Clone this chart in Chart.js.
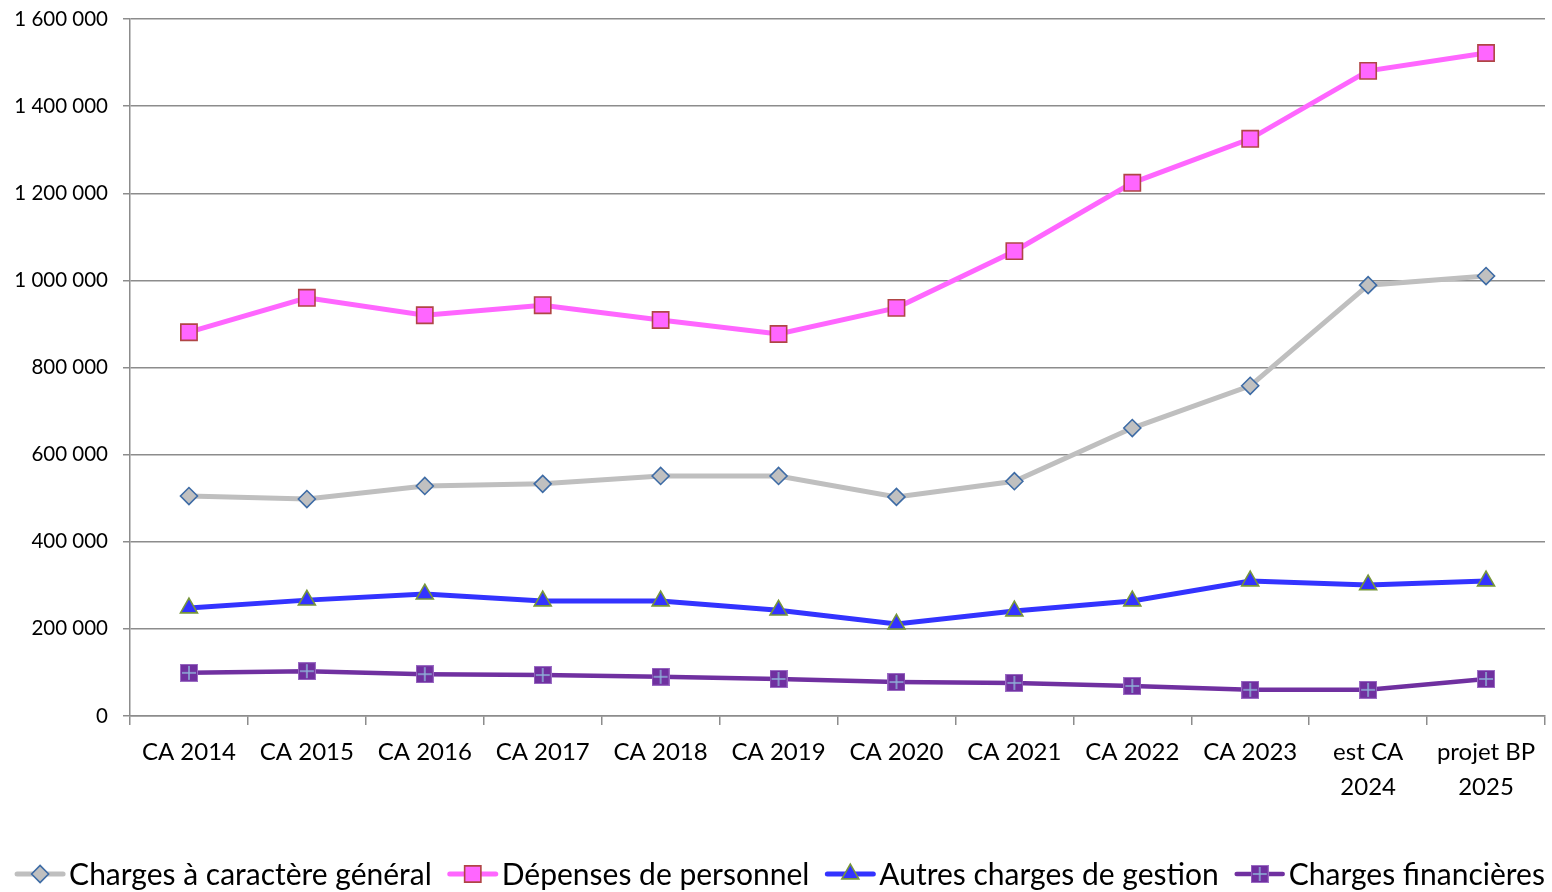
<!DOCTYPE html>
<html><head><meta charset="utf-8">
<script src="https://cdn.jsdelivr.net/npm/chart.js@4"></script>
<style>html,body{margin:0;padding:0;background:#fff;overflow:hidden;}#wrap{width:1552px;height:892px;}</style>
</head><body><div id="wrap"><canvas id="c" width="1552" height="892"></canvas></div>
<script>
const categories = ["CA 2014","CA 2015","CA 2016","CA 2017","CA 2018","CA 2019","CA 2020","CA 2021","CA 2022","CA 2023",["est CA","2024"],["projet BP","2025"]];
const chargesGenerales = [505000,498000,528000,533000,551000,551000,503000,539000,661000,758000,989000,1010000];
const depensesPersonnel = [881000,960000,920000,943000,909000,877000,937000,1067000,1224000,1325000,1481000,1522000];
const autresCharges = [248000,266000,280000,264000,264000,243000,211000,241000,264000,310000,301000,310000];
const chargesFinancieres = [99000,103000,96000,94000,90000,85000,78000,76000,69000,60000,60000,85000];
const seriesNames = ["Charges à caractère général","Dépenses de personnel","Autres charges de gestion","Charges financières"];
const yTicks = [0,200000,400000,600000,800000,1000000,1200000,1400000,1600000];

const FONT = "Lato, 'Liberation Sans', sans-serif";

function squarePlus(){
  const s = 18, cv = document.createElement('canvas');
  cv.width = s; cv.height = s;
  const g = cv.getContext('2d');
  g.fillStyle = '#7030a0'; g.fillRect(0,0,s,s);
  g.strokeStyle = '#9b6cc4'; g.lineWidth = 1; g.strokeRect(0.5,0.5,s-1,s-1);
  g.strokeStyle = '#8fb0d8'; g.lineWidth = 1.5;
  g.beginPath(); g.moveTo(s/2,2); g.lineTo(s/2,s-2); g.moveTo(2,s/2); g.lineTo(s-2,s/2); g.stroke();
  return cv;
}
const plusImg = squarePlus();

const styles = [
  {line:'#bfbfbf', width:5, point:'rectRot', radius:8.5, fill:'#c0c0c0', border:'#3d6ba5', bw:1.6},
  {line:'#ff66ff', width:5, point:'rect', radius:11.5, fill:'#ff66ff', border:'#b04545', bw:1.6},
  {line:'#3333ff', width:5, point:'triangle', radius:9.8, fill:'#3333ff', border:'#77963b', bw:1.6},
  {line:'#7030a0', width:4.5, point:plusImg, radius:9, fill:'#7030a0', border:'#7030a0', bw:0}
];
const dataArr = [chargesGenerales, depensesPersonnel, autresCharges, chargesFinancieres];

const datasets = dataArr.map((d,i)=>({
  label: seriesNames[i], data: d,
  borderColor: styles[i].line, borderWidth: styles[i].width,
  pointStyle: styles[i].point, pointRadius: styles[i].radius, pointHoverRadius: styles[i].radius,
  pointBackgroundColor: styles[i].fill, pointBorderColor: styles[i].border, pointBorderWidth: styles[i].bw,
  tension: 0, fill: false
}));

const legendPlugin = {
  id: 'customLegend',
  afterDraw(chart){
    const ctx = chart.ctx;
    ctx.save();
    ctx.font = "30px " + FONT;
    const symW = 50, gapText = 4, gapItem = 16;
    const widths = seriesNames.map(n=>ctx.measureText(n).width);
    let total = 0;
    widths.forEach((w,i)=>{ total += symW + gapText + w + (i<widths.length-1?gapItem:0); });
    let x = (chart.width - total)/2 + 4;
    const y = 874;
    chart.data.datasets.forEach((ds,i)=>{
      const st = styles[i];
      ctx.strokeStyle = st.line; ctx.lineWidth = st.width; ctx.lineCap='round';
      ctx.beginPath(); ctx.moveTo(x+2,y); ctx.lineTo(x+symW-2,y); ctx.stroke();
      ctx.fillStyle = st.fill; ctx.strokeStyle = st.border; ctx.lineWidth = st.bw;
      Chart.helpers.drawPoint(ctx, {pointStyle: st.point, rotation:0, radius: st.radius, borderWidth: st.bw}, x+symW/2, y);
      ctx.fillStyle = '#000'; ctx.textBaseline='middle'; ctx.textAlign='left';
      ctx.fillText(seriesNames[i], x+symW+gapText, y+1);
      x += symW + gapText + widths[i] + gapItem;
    });
    ctx.restore();
  }
};

function fmt(v){ return String(v).replace(/\B(?=(\d{3})+(?!\d))/g,' '); }

new Chart(document.getElementById('c'), {
  type: 'line',
  data: { labels: categories, datasets },
  options: {
    responsive: false, animation: false,
    layout: { autoPadding: false, padding: { left: 0, right: 7, top: 19, bottom: 0 } },
    plugins: { legend: { display: false }, tooltip: { enabled: false } },
    scales: {
      x: {
        offset: true,
        grid: { display: true, drawOnChartArea: false, offset: true, tickLength: 9, color: '#8c8c8c', lineWidth: 1.5 },
        border: { display: true, color: '#8c8c8c', width: 1.5 },
        ticks: { color: '#000', font: { family: FONT, size: 24, lineHeight: 1.45 }, maxRotation: 0, autoSkip: false, padding: 10 },
        afterFit(scale){ scale.height = 176; scale.paddingLeft = 0; scale.paddingRight = 0; }
      },
      y: {
        min: 0, max: 1600000,
        afterBuildTicks(scale){ scale.ticks = yTicks.map(v=>({value:v})); },
        grid: { color: '#8c8c8c', lineWidth: 1.5, tickLength: 7 },
        border: { display: true, color: '#8c8c8c', width: 1.5 },
        ticks: { color: '#000', font: { family: FONT, size: 20.5 }, padding: 15, callback: v => fmt(v) },
        afterFit(scale){ scale.width = 130; scale.paddingTop = 0; scale.paddingBottom = 0; }
      }
    }
  },
  plugins: [legendPlugin]
});
</script>
</body></html>
